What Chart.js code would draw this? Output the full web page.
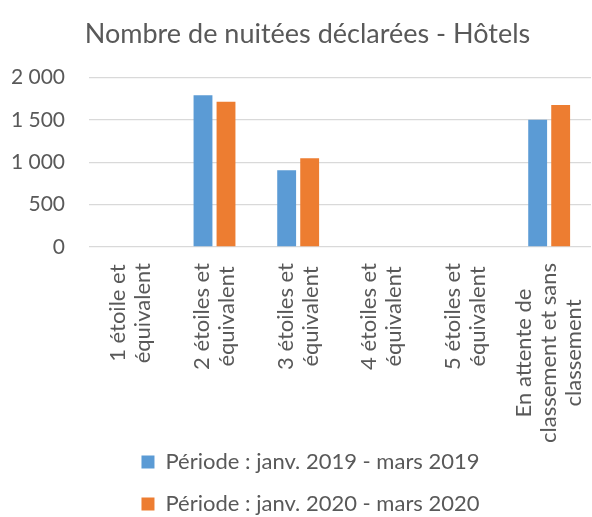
<!DOCTYPE html>
<html>
<head>
<meta charset="utf-8">
<script src="https://cdn.jsdelivr.net/npm/chart.js@4/dist/chart.umd.min.js"></script>
<style>
    html, body { margin: 0; padding: 0; background: #fff; }
    canvas { display: block; }
</style>
</head>
<body>
<canvas id="hotelsChart" width="592" height="517"></canvas>
<script>
const categories = [
    ['1 étoile et', 'équivalent'],
    ['2 étoiles et', 'équivalent'],
    ['3 étoiles et', 'équivalent'],
    ['4 étoiles et', 'équivalent'],
    ['5 étoiles et', 'équivalent'],
    ['En attente de', 'classement et sans', 'classement']
];
const seriesLabels = ['Période : janv. 2019 - mars 2019', 'Période : janv. 2020 - mars 2020'];
const values2019 = [null, 1790, 905, null, null, 1500];
const values2020 = [null, 1712, 1048, null, null, 1675];
const yTicks = [0, 500, 1000, 1500, 2000];

const textColor = '#595959';
const fontFamily = 'Lato, "Open Sans", sans-serif';

// centre les étiquettes multi-lignes (comme Excel) au lieu de les caler à gauche
const centerXLabels = {
    id: 'centerXLabels',
    beforeDraw(chart) {
        const scale = chart.scales.x;
        const items = scale.getLabelItems();
        const ctx = chart.ctx;
        items.forEach(item => {
            if (item._centered) return;
            const lines = Array.isArray(item.label) ? item.label : [item.label];
            const lh = item.font.lineHeight;
            ctx.save();
            ctx.font = item.font.string;
            const maxW = Math.max(...lines.map(l => ctx.measureText(l).width));
            ctx.restore();
            item.textOffset -= (lines.length - 1) * lh / 2;
            const [tx, ty] = item.options.translation;
            item.options.translation = [tx, ty + maxW / 2];
            item.options.textAlign = 'center';
            item._centered = true;
        });
    }
};

// petit décalage horizontal du titre et de la légende, et zone de texte de l'axe x un peu plus haute
const shiftBoxes = {
    id: 'shiftBoxes',
    afterLayout(chart) {
        chart.titleBlock.left += 12;
        chart.titleBlock.right += 12;
        chart.legend.left += 15;
        chart.legend.right += 15;
        chart.scales.x.bottom += 12;
    }
};

const ctx = document.getElementById('hotelsChart').getContext('2d');

new Chart(ctx, {
    type: 'bar',
    data: {
        labels: categories,
        datasets: [{
            label: seriesLabels[0],
            data: values2019,
            backgroundColor: '#5b9bd5',
            borderWidth: 0
        }, {
            label: seriesLabels[1],
            data: values2020,
            backgroundColor: '#ed7d31',
            borderWidth: 0
        }]
    },
    plugins: [centerXLabels, shiftBoxes],
    options: {
        responsive: false,
        animation: false,
        layout: { padding: { left: 0, right: 1, top: 0, bottom: -8 } },
        datasets: {
            bar: { categoryPercentage: 0.55, barPercentage: 0.82 }
        },
        scales: {
            x: {
                grid: { display: false, drawTicks: false },
                border: { display: false },
                ticks: {
                    color: textColor,
                    font: { family: fontFamily, size: 22, lineHeight: '25px' },
                    minRotation: 90,
                    maxRotation: 90,
                    padding: 16,
                    autoSkip: false
                },
                afterFit: scale => {
                    scale.height = 184;
                    scale.paddingLeft = 0;
                    scale.paddingRight = 0;
                }
            },
            y: {
                min: 0,
                max: 2000,
                afterBuildTicks: scale => {
                    scale.ticks = yTicks.map(v => ({ value: v }));
                },
                grid: { color: '#d9d9d9', lineWidth: 1.3, drawTicks: false },
                border: { display: false },
                ticks: {
                    color: textColor,
                    font: { family: fontFamily, size: 21 },
                    padding: 24,
                    callback: v => v.toLocaleString('fr-FR').replace(/\s/g, ' ')
                },
                afterFit: scale => { scale.width = 89; }
            }
        },
        plugins: {
            title: {
                display: true,
                text: 'Nombre de nuitées déclarées - Hôtels',
                color: textColor,
                font: { family: fontFamily, size: 27, weight: 'normal' },
                padding: { top: 18, bottom: 27 }
            },
            legend: {
                position: 'bottom',
                labels: {
                    color: textColor,
                    font: { family: fontFamily, size: 22 },
                    boxWidth: 13,
                    boxHeight: 13,
                    padding: 20
                }
            },
            tooltip: { enabled: false }
        }
    }
});
</script>
</body>
</html>
